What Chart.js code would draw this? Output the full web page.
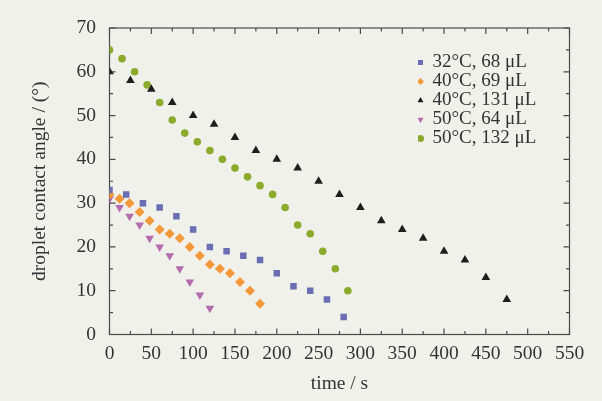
<!DOCTYPE html>
<html>
<head>
<meta charset="utf-8">
<script src="https://cdn.jsdelivr.net/npm/chart.js@4"></script>
<style>
  html, body { margin: 0; padding: 0; background: #f1f1ec; }
  canvas { display: block; }
</style>
</head>
<body>
<canvas id="angleChart" width="602" height="401"></canvas>
<script>
// time (s) and contact angle (deg) per run
const time32_68 = [0, 20, 40, 60, 80, 100, 120, 140, 160, 180, 200, 220, 240, 260, 280];
const angle32_68 = [33, 32, 30, 29, 27, 24, 20, 19, 18, 17, 14, 11, 10, 8, 4];

const time40_69 = [0, 12, 24, 36, 48, 60, 72, 84, 96, 108, 120, 132, 144, 156, 168, 180];
const angle40_69 = [32, 31, 30, 28, 26, 24, 23, 22, 20, 18, 16, 15, 14, 12, 10, 7];

const time40_131 = [0, 25, 50, 75, 100, 125, 150, 175, 200, 225, 250, 275, 300, 325, 350, 375, 400, 425, 450, 475];
const angle40_131 = [60, 58, 56, 53, 50, 48, 45, 42, 40, 38, 35, 32, 29, 26, 24, 22, 19, 17, 13, 8];

const time50_64 = [0, 12, 24, 36, 48, 60, 72, 84, 96, 108, 120];
const angle50_64 = [31, 29, 27, 25, 22, 20, 18, 15, 12, 9, 6];

const time50_132 = [0, 15, 30, 45, 60, 75, 90, 105, 120, 135, 150, 165, 180, 195, 210, 225, 240, 255, 270, 285];
const angle50_132 = [65, 63, 60, 57, 53, 49, 46, 44, 42, 40, 38, 36, 34, 32, 29, 25, 23, 19, 15, 10];

const seriesLabels = ['32°C, 68 μL', '40°C, 69 μL', '40°C, 131 μL', '50°C, 64 μL', '50°C, 132 μL'];

const xMin = 0, xMax = 550, xMajor = 50, xMinor = 25;
const yMin = 0, yMax = 70, yMajor = 10, yMinor = 5;

const toPoints = (xs, ys) => xs.map((t, i) => ({ x: t, y: ys[i] }));

const serif = "'Liberation Serif', 'DejaVu Serif', serif";
const axisColor = '#4a4a4a';

// box round the plot with inward ticks on all four sides
const frameTicks = {
    id: 'frameTicks',
    beforeDatasetsDraw(chart) {
        const { ctx, chartArea: a, scales: { x, y } } = chart;
        ctx.save();
        ctx.strokeStyle = axisColor;
        ctx.lineWidth = 1.2;
        ctx.strokeRect(a.left, a.top, a.right - a.left, a.bottom - a.top);
        ctx.beginPath();
        for (let t = xMin; t <= xMax; t += xMinor) {
            const px = x.getPixelForValue(t);
            const len = t % xMajor === 0 ? 6 : 3.5;
            ctx.moveTo(px, a.bottom); ctx.lineTo(px, a.bottom - len);
            ctx.moveTo(px, a.top); ctx.lineTo(px, a.top + len);
        }
        for (let v = yMin; v <= yMax; v += yMinor) {
            const py = y.getPixelForValue(v);
            const len = v % yMajor === 0 ? 6 : 3.5;
            ctx.moveTo(a.left, py); ctx.lineTo(a.left + len, py);
            ctx.moveTo(a.right, py); ctx.lineTo(a.right - len, py);
        }
        ctx.stroke();
        ctx.restore();
    }
};

// move the legend to the upper right of the plot
const legendSpot = {
    id: 'legendSpot',
    beforeDraw(chart) {
        if (chart.legend) {
            chart.legend.left = 418;
            chart.legend.top = 53;
        }
    }
};

const ctx = document.getElementById('angleChart').getContext('2d');
new Chart(ctx, {
    type: 'scatter',
    data: {
        datasets: [{
            label: seriesLabels[0],
            data: toPoints(time32_68, angle32_68),
            pointStyle: 'rect',
            pointRadius: 4.6,
            backgroundColor: '#6a6fb3',
            borderColor: '#6a6fb3'
        }, {
            label: seriesLabels[1],
            data: toPoints(time40_69, angle40_69),
            pointStyle: 'rectRot',
            pointRadius: 5,
            backgroundColor: '#f4993a',
            borderColor: '#f4993a'
        }, {
            label: seriesLabels[2],
            data: toPoints(time40_131, angle40_131),
            pointStyle: 'triangle',
            pointRadius: 5,
            backgroundColor: '#1e1e1e',
            borderColor: '#1e1e1e'
        }, {
            label: seriesLabels[3],
            data: toPoints(time50_64, angle50_64),
            pointStyle: 'triangle',
            pointRotation: 180,
            pointRadius: 5,
            backgroundColor: '#b46cad',
            borderColor: '#b46cad'
        }, {
            label: seriesLabels[4],
            data: toPoints(time50_132, angle50_132),
            pointStyle: 'circle',
            pointRadius: 3.8,
            backgroundColor: '#8aab2c',
            borderColor: '#8aab2c'
        }]
    },
    options: {
        responsive: false,
        animation: false,
        layout: {
            padding: { top: 28, right: 32.5, left: 0, bottom: 0 }
        },
        elements: {
            point: { borderWidth: 0 }
        },
        plugins: {
            tooltip: { enabled: false },
            legend: {
                position: 'chartArea',
                align: 'start',
                labels: {
                    usePointStyle: true,
                    boxWidth: 5,
                    boxHeight: 5,
                    padding: 0,
                    color: '#333',
                    font: { family: serif, size: 19 }
                }
            }
        },
        scales: {
            x: {
                type: 'linear',
                min: xMin,
                max: xMax,
                afterFit: (scale) => { scale.height = 66.5; },
                grid: { display: false, drawTicks: false },
                border: { display: false },
                ticks: {
                    stepSize: xMajor,
                    padding: 8,
                    maxRotation: 0,
                    color: '#333',
                    font: { family: serif, size: 19.5 }
                },
                title: {
                    display: true,
                    text: 'time / s',
                    color: '#333',
                    padding: { top: 0, bottom: 5 },
                    font: { family: serif, size: 19.5 }
                }
            },
            y: {
                min: yMin,
                max: yMax,
                afterFit: (scale) => { scale.width = 109.5; },
                grid: { display: false, drawTicks: false },
                border: { display: false },
                ticks: {
                    stepSize: yMajor,
                    padding: 13.5,
                    color: '#333',
                    font: { family: serif, size: 19.5 }
                },
                title: {
                    display: true,
                    text: 'droplet contact angle / (°)',
                    color: '#333',
                    padding: { top: 28, bottom: 0 },
                    font: { family: serif, size: 19.5 }
                }
            }
        }
    },
    plugins: [frameTicks, legendSpot]
});
</script>
</body>
</html>
